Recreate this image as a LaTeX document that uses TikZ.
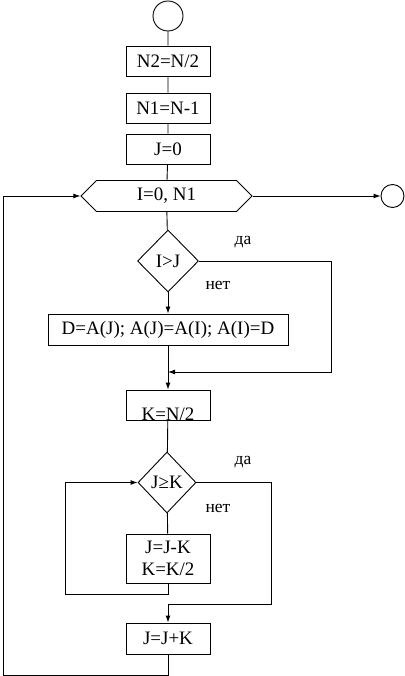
\documentclass[tikz,border=0pt]{standalone}
\usepackage{fontspec}
\setmainfont{Liberation Serif}
\usetikzlibrary{arrows.meta,positioning,shapes.geometric,shapes.symbols}

\begin{document}
\begin{tikzpicture}[x=1pt, y=-1pt, line width=0.9pt,
  box/.style={draw, minimum width=84pt, minimum height=30pt, inner sep=0pt,
              align=center, font=\fontsize{19}{22}\selectfont},
  cond/.style={draw, diamond, inner sep=0pt, font=\fontsize{19}{22}\selectfont},
  term/.style={draw, circle, inner sep=0pt},
  cyc/.style={draw, signal, signal to=east and west, signal pointer angle=90,
              minimum width=171pt, minimum height=31pt, inner sep=0pt,
              font=\fontsize{19}{22}\selectfont},
  lbl/.style={font=\fontsize{17.5}{20}\selectfont},
  arr/.style={-{Latex[length=7pt,width=5pt]}}
]
  \useasboundingbox (0,0) rectangle (404,676);

  \node[term, minimum size=30pt] (start) at (168,16) {};
  \node[box] (n2) at (168,61)  {N2=N/2};
  \node[box] (n1) at (168,108) {N1=N-1};
  \node[box] (j0) at (168,149) {J=0};
  \node[cyc] (loop) at (166.5,196) {I=0, N1};
  \node[term, minimum size=23pt] (stop) at (392.5,196) {};

  \node[cond, minimum width=61pt, minimum height=62pt] (ij) at (168,261) {I>J};
  \node[lbl] (da1)  at (243,242) {да};
  \node[lbl] (net1) at (218,285) {нет};
  \node[box, minimum width=240pt, minimum height=31pt] (swap) at (168,329.5) {D=A(J); A(J)=A(I); A(I)=D};
  \coordinate (m1) at (168,372);
  \node[box] (k) at (168,405) {\raisebox{-15pt}[0pt][0pt]{K=N/2}};

  \node[cond, minimum width=58pt, minimum height=61pt] (jge) at (167,482.5) {J≥K};
  \node[lbl] (da2)  at (243,462) {да};
  \node[lbl] (net2) at (218,508) {нет};
  \node[box, minimum height=49pt] (jk) at (168,558.5) {J=J-K\\K=K/2};
  \node[box, minimum height=31pt] (jjk) at (168,638.5) {J=J+K};

  % main line
  \draw (start) -- (n2) -- (n1) -- (j0) -- (loop) -- (ij);
  \draw[arr] (loop.east) -- (stop);
  \draw[arr] (ij) -- (swap);
  \draw[arr] (swap) -- (k);
  \draw[arr] (ij.east) -| (331,372) -- (m1);
  \draw (k) -- (jge) -- (jk);

  % inner loop and exit
  \draw[arr] (jk.south) -- ++(0,11) -| (65,482.5) -- (jge.west);
  \draw[arr] (jge.east) -| (271,604) -| (jjk.north);

  % back to loop head
  \draw[arr] (jjk.south) -- ++(0,21) -| (3,196) -- (loop.west);
\end{tikzpicture}
\end{document}
